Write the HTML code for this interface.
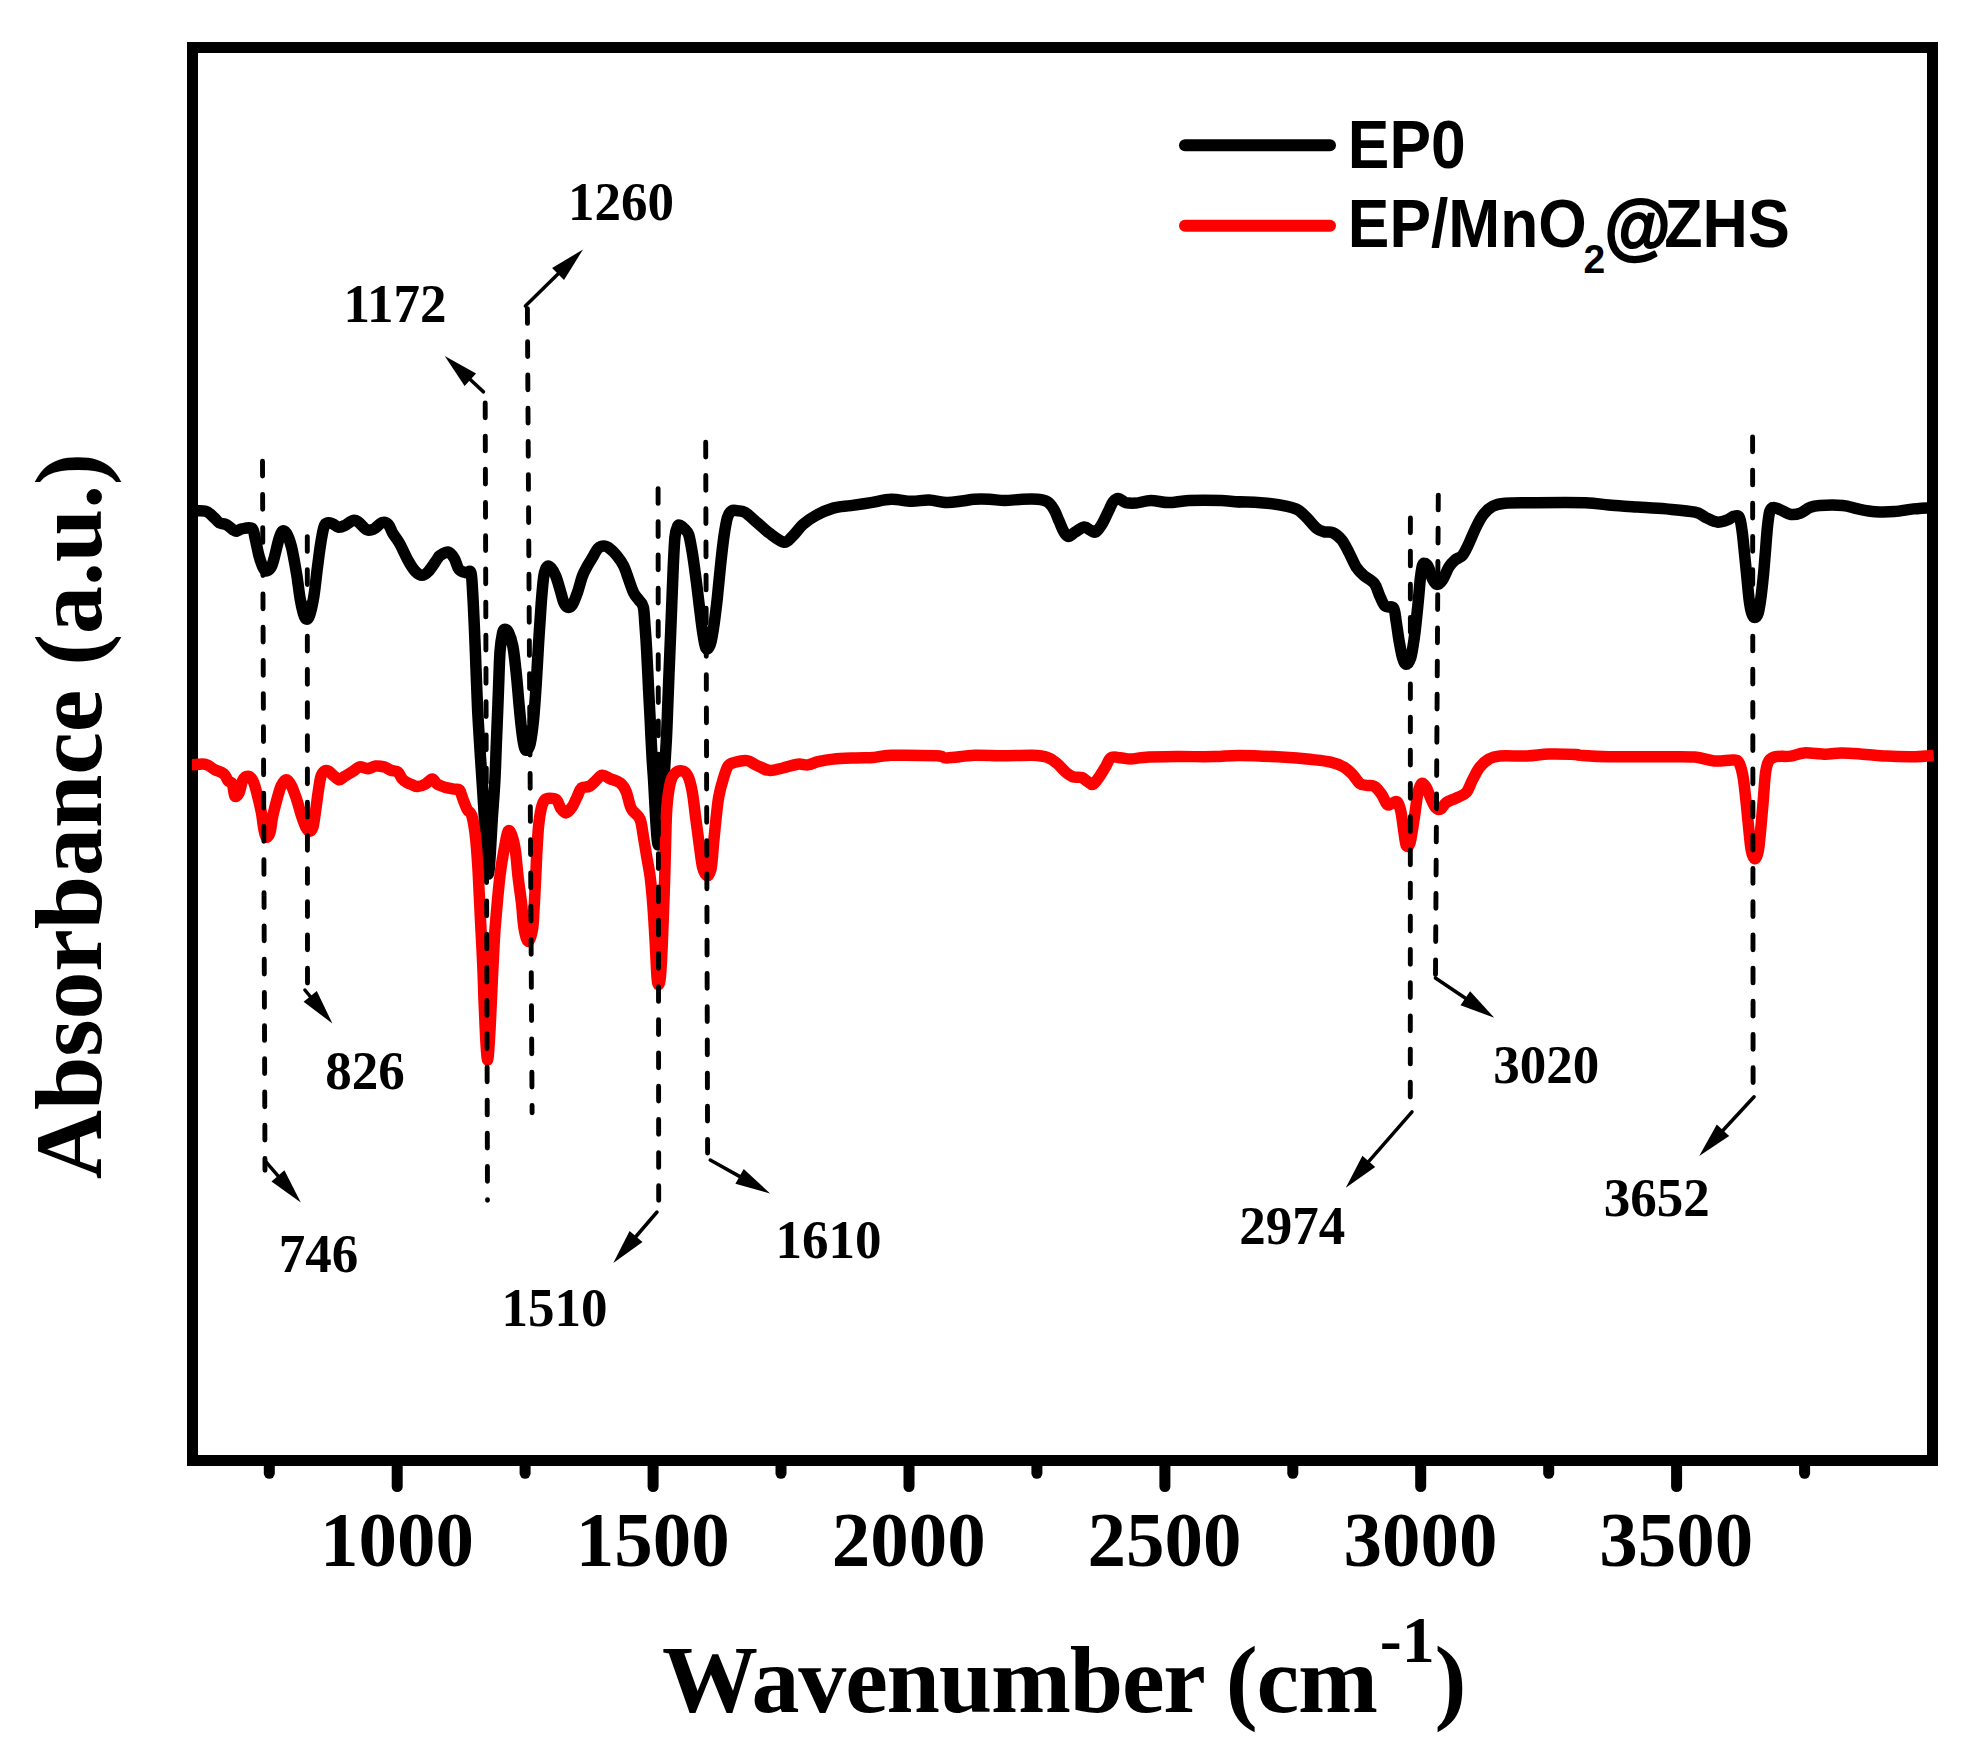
<!DOCTYPE html>
<html><head><meta charset="utf-8"><title>FTIR</title>
<style>html,body{margin:0;padding:0;background:#fff}svg{display:block}text{font-family:"Liberation Serif",serif;font-weight:bold;fill:#000}.ar{font-family:"Liberation Sans",sans-serif}</style></head><body>
<svg width="1982" height="1763" viewBox="0 0 1982 1763">
<rect width="1982" height="1763" fill="#fff"/>
<line x1="397.2" y1="1462" x2="397.2" y2="1486.5" stroke="#000" stroke-width="11" stroke-linecap="round"/>
<line x1="653.1" y1="1462" x2="653.1" y2="1486.5" stroke="#000" stroke-width="11" stroke-linecap="round"/>
<line x1="909.0" y1="1462" x2="909.0" y2="1486.5" stroke="#000" stroke-width="11" stroke-linecap="round"/>
<line x1="1164.9" y1="1462" x2="1164.9" y2="1486.5" stroke="#000" stroke-width="11" stroke-linecap="round"/>
<line x1="1420.7" y1="1462" x2="1420.7" y2="1486.5" stroke="#000" stroke-width="11" stroke-linecap="round"/>
<line x1="1676.6" y1="1462" x2="1676.6" y2="1486.5" stroke="#000" stroke-width="11" stroke-linecap="round"/>
<line x1="269.3" y1="1462" x2="269.3" y2="1473.3" stroke="#000" stroke-width="11" stroke-linecap="round"/>
<line x1="525.1" y1="1462" x2="525.1" y2="1473.3" stroke="#000" stroke-width="11" stroke-linecap="round"/>
<line x1="781.0" y1="1462" x2="781.0" y2="1473.3" stroke="#000" stroke-width="11" stroke-linecap="round"/>
<line x1="1036.9" y1="1462" x2="1036.9" y2="1473.3" stroke="#000" stroke-width="11" stroke-linecap="round"/>
<line x1="1292.8" y1="1462" x2="1292.8" y2="1473.3" stroke="#000" stroke-width="11" stroke-linecap="round"/>
<line x1="1548.7" y1="1462" x2="1548.7" y2="1473.3" stroke="#000" stroke-width="11" stroke-linecap="round"/>
<line x1="1804.6" y1="1462" x2="1804.6" y2="1473.3" stroke="#000" stroke-width="11" stroke-linecap="round"/>
<rect x="192.5" y="47.5" width="1740" height="1413" fill="none" stroke="#000" stroke-width="11"/>
<path d="M192.0 510.9 C194.3 511.0 202.0 510.1 205.7 511.3 C209.5 512.4 212.0 515.8 214.3 517.8 C216.6 519.7 217.5 521.8 219.5 522.9 C221.5 524.1 224.0 523.5 226.3 524.6 C228.6 525.8 231.5 528.7 233.2 529.8 C234.9 530.9 235.2 531.3 236.6 531.2 C238.0 531.0 239.2 529.4 241.8 528.9 C244.3 528.5 249.8 526.6 252.1 528.4 C254.3 530.3 254.3 535.6 255.5 540.1 C256.6 544.6 257.8 551.2 258.9 555.5 C260.1 559.8 261.2 563.2 262.3 565.8 C263.5 568.4 264.3 570.7 265.8 571.0 C267.2 571.3 269.5 569.8 270.9 567.5 C272.4 565.3 273.1 561.8 274.4 557.2 C275.6 552.7 277.4 544.4 278.6 540.1 C279.9 535.8 280.8 532.7 282.1 531.5 C283.4 530.4 284.8 530.7 286.4 533.2 C287.9 535.8 289.8 540.1 291.5 547.0 C293.2 553.8 295.2 565.8 296.7 574.4 C298.1 583.0 298.9 591.8 300.1 598.4 C301.2 605.0 302.5 610.4 303.5 613.9 C304.5 617.3 305.1 618.7 306.1 619.0 C307.1 619.3 308.2 619.3 309.5 615.6 C310.8 611.9 312.5 604.4 313.8 596.7 C315.1 589.0 316.1 578.1 317.2 569.3 C318.4 560.4 319.5 550.7 320.7 543.5 C321.8 536.4 323.0 529.8 324.1 526.4 C325.3 522.9 326.1 523.4 327.5 522.9 C329.0 522.5 330.8 523.1 332.7 523.8 C334.5 524.5 336.7 526.9 338.7 527.2 C340.7 527.5 342.3 526.7 344.7 525.5 C347.1 524.4 351.0 520.9 353.3 520.4 C355.6 519.8 356.1 520.5 358.4 522.1 C360.7 523.6 364.4 528.7 367.0 529.8 C369.6 530.9 371.3 530.1 373.9 528.9 C376.4 527.7 380.0 523.3 382.4 522.6 C384.9 521.9 386.7 522.9 388.4 524.6 C390.2 526.4 390.9 530.1 392.7 533.2 C394.6 536.4 397.0 538.9 399.6 543.5 C402.2 548.1 405.6 556.1 408.2 560.7 C410.7 565.3 412.7 568.5 415.0 571.0 C417.3 573.4 419.6 575.3 421.9 575.3 C424.2 575.3 426.2 573.7 428.8 571.0 C431.3 568.3 435.5 561.5 437.3 559.0 C439.2 556.4 438.1 556.6 440.0 555.5 C441.9 554.3 446.1 551.5 448.6 552.1 C451.0 552.6 452.9 556.1 454.6 558.9 C456.3 561.8 457.0 566.9 458.9 569.2 C460.7 571.5 463.7 572.1 465.7 572.6 C467.7 573.2 469.7 569.5 470.9 572.6 C472.0 575.8 472.0 582.6 472.6 591.5 C473.2 600.4 473.7 613.0 474.3 625.8 C474.9 638.7 475.5 654.4 476.0 668.7 C476.6 683.0 477.0 697.3 477.7 711.6 C478.5 725.9 479.6 743.1 480.3 754.5 C481.0 765.9 481.3 769.1 482.0 780.1 C482.7 791.0 483.8 807.5 484.5 820.0 C485.2 832.5 485.9 846.0 486.5 855.0 C487.1 864.0 487.7 874.0 488.3 874.0 C488.9 874.0 489.6 864.0 490.2 855.0 C490.8 846.0 491.4 832.5 492.2 820.0 C493.0 807.5 494.2 793.8 494.9 780.1 C495.6 766.3 496.0 751.6 496.6 737.3 C497.2 723.1 497.8 708.7 498.3 694.4 C498.9 680.1 499.3 661.8 500.0 651.6 C500.8 641.3 501.8 636.4 502.6 632.7 C503.5 629.0 504.2 629.3 505.2 629.3 C506.2 629.3 507.3 629.8 508.6 632.7 C509.9 635.5 511.6 639.5 512.9 646.4 C514.2 653.3 515.3 664.4 516.3 673.9 C517.3 683.3 518.1 693.9 518.9 703.0 C519.8 712.2 520.6 721.6 521.5 728.8 C522.3 735.9 523.2 742.3 524.1 745.9 C524.9 749.5 525.6 750.5 526.6 750.2 C527.6 749.9 528.9 749.2 530.1 744.2 C531.2 739.2 532.5 729.9 533.5 720.2 C534.5 710.5 535.2 698.7 536.1 685.9 C536.9 673.0 537.8 656.7 538.6 643.0 C539.5 629.3 540.4 614.7 541.2 603.5 C542.1 592.4 542.8 582.2 543.8 576.1 C544.8 569.9 545.9 567.9 547.2 566.6 C548.5 565.3 550.1 566.8 551.5 568.4 C552.9 569.9 554.4 572.5 555.8 576.1 C557.2 579.6 558.8 585.5 560.1 589.8 C561.4 594.1 562.4 598.9 563.5 601.8 C564.7 604.7 565.5 606.4 567.0 607.0 C568.4 607.5 570.4 607.5 572.1 605.2 C573.8 602.9 575.5 598.1 577.2 593.2 C579.0 588.4 580.7 580.6 582.4 576.1 C584.1 571.5 585.8 568.9 587.5 565.8 C589.3 562.6 591.0 560.1 592.7 557.2 C594.4 554.3 596.0 550.5 597.8 548.6 C599.7 546.8 601.8 546.0 603.8 546.0 C605.8 546.0 607.7 547.0 609.8 548.6 C612.0 550.2 614.4 552.6 616.7 555.5 C619.0 558.3 621.6 561.8 623.6 565.8 C625.6 569.8 627.0 574.9 628.7 579.5 C630.4 584.1 632.1 589.8 633.9 593.2 C635.6 596.7 637.4 597.8 639.0 600.1 C640.6 602.4 642.3 602.7 643.3 607.0 C644.3 611.2 644.4 618.4 645.0 625.8 C645.6 633.3 646.2 641.5 646.7 651.6 C647.3 661.6 647.9 674.4 648.4 685.9 C649.0 697.3 649.6 708.7 650.2 720.2 C650.7 731.6 651.3 744.5 651.9 754.5 C652.4 764.5 653.0 770.8 653.6 780.1 C654.1 789.3 654.7 800.8 655.2 810.0 C655.7 819.2 656.3 829.2 656.8 835.0 C657.3 840.8 657.7 845.0 658.2 845.0 C658.7 845.0 659.2 840.8 659.8 835.0 C660.4 829.2 660.9 819.2 661.6 810.0 C662.3 800.8 663.1 792.2 663.9 780.1 C664.7 767.9 665.7 751.6 666.5 737.3 C667.2 723.1 667.6 708.7 668.2 694.4 C668.7 680.1 669.3 665.9 669.9 651.6 C670.5 637.3 671.0 623.0 671.6 608.7 C672.2 594.4 672.7 577.8 673.3 565.8 C673.9 553.8 674.3 543.2 675.0 536.6 C675.7 530.0 676.7 528.2 677.6 526.3 C678.5 524.5 679.0 525.0 680.2 525.5 C681.3 525.9 683.0 527.3 684.5 528.9 C685.9 530.5 687.5 531.0 688.8 534.9 C690.0 538.8 691.0 545.2 692.2 552.1 C693.3 558.9 694.5 567.5 695.6 576.1 C696.8 584.6 697.9 594.4 699.0 603.5 C700.2 612.7 701.3 623.5 702.5 631.0 C703.6 638.4 704.6 645.8 705.9 648.1 C707.2 650.4 708.9 648.1 710.2 644.7 C711.5 641.3 712.5 635.0 713.6 627.5 C714.8 620.1 715.9 610.4 717.1 600.1 C718.2 589.8 719.4 576.4 720.5 565.8 C721.6 555.2 722.8 544.6 723.9 536.6 C725.1 528.6 726.1 522.0 727.4 517.7 C728.6 513.5 729.8 512.0 731.6 510.9 C733.5 509.7 736.2 510.6 738.5 510.9 C740.8 511.2 742.2 510.6 745.4 512.6 C748.5 514.6 753.4 519.5 757.4 522.9 C761.4 526.3 765.0 530.0 769.4 533.2 C773.8 536.4 780.1 541.7 784.0 542.2 C787.9 542.6 789.6 538.8 792.8 535.9 C795.9 532.9 799.1 527.9 802.9 524.5 C806.7 521.1 810.5 518.4 815.5 515.7 C820.5 512.9 827.3 509.8 833.2 508.1 C839.0 506.4 844.5 506.5 850.8 505.6 C857.1 504.7 864.3 503.6 871.0 502.6 C877.7 501.5 884.5 499.5 891.2 499.3 C897.9 499.1 905.1 501.2 911.4 501.3 C917.7 501.4 923.1 499.8 929.0 500.0 C934.9 500.3 941.2 502.4 946.7 502.6 C952.1 502.7 957.2 501.6 961.8 501.0 C966.4 500.5 969.8 499.6 974.4 499.3 C979.1 499.0 984.5 499.1 989.6 499.3 C994.6 499.5 999.2 500.5 1004.7 500.5 C1010.2 500.5 1016.9 499.5 1022.4 499.3 C1027.8 499.1 1033.3 498.9 1037.5 499.3 C1041.7 499.7 1044.9 500.1 1047.6 501.8 C1050.3 503.5 1052.0 506.2 1053.9 509.4 C1055.8 512.5 1057.3 516.9 1058.9 520.7 C1060.6 524.5 1062.4 529.5 1064.0 532.1 C1065.5 534.7 1066.4 536.4 1068.3 536.4 C1070.2 536.4 1072.7 533.6 1075.3 532.1 C1078.0 530.5 1081.6 527.3 1084.2 527.0 C1086.7 526.7 1088.6 529.5 1090.5 530.3 C1092.4 531.2 1093.6 533.0 1095.5 532.1 C1097.4 531.1 1099.7 527.9 1101.8 524.5 C1103.9 521.1 1106.2 515.7 1108.1 511.9 C1110.0 508.1 1111.5 504.0 1113.2 501.8 C1114.9 499.6 1116.1 498.4 1118.2 498.5 C1120.3 498.7 1122.8 501.8 1125.8 502.6 C1128.7 503.3 1131.7 503.4 1135.9 503.1 C1140.1 502.7 1145.6 500.6 1151.0 500.5 C1156.5 500.5 1162.4 502.6 1168.7 502.6 C1175.0 502.6 1180.0 500.9 1188.9 500.5 C1197.7 500.2 1213.2 500.3 1221.7 500.5 C1230.1 500.8 1236.3 501.9 1239.3 502.1 C1242.4 502.3 1235.3 501.6 1240.0 501.8 C1244.7 501.9 1259.4 502.5 1267.2 503.2 C1275.1 504.0 1282.1 505.2 1287.2 506.3 C1292.4 507.4 1294.8 508.0 1298.1 509.9 C1301.5 511.9 1304.2 515.1 1307.2 518.1 C1310.2 521.1 1313.6 525.8 1316.3 528.1 C1319.0 530.4 1320.8 531.0 1323.6 531.7 C1326.3 532.5 1329.6 531.3 1332.6 532.6 C1335.7 534.0 1339.0 536.6 1341.7 539.9 C1344.4 543.2 1346.6 548.1 1349.0 552.6 C1351.4 557.2 1353.8 563.4 1356.2 567.1 C1358.7 570.9 1360.5 572.6 1363.5 575.3 C1366.5 578.0 1371.7 580.0 1374.4 583.5 C1377.1 587.0 1378.0 592.4 1379.9 596.2 C1381.7 600.0 1383.0 604.2 1385.3 606.2 C1387.6 608.2 1391.7 605.4 1393.5 608.0 C1395.3 610.6 1395.3 616.3 1396.2 621.6 C1397.1 626.9 1397.9 633.7 1398.9 639.8 C1400.0 645.9 1401.4 653.9 1402.6 658.0 C1403.8 662.0 1404.8 664.3 1406.2 664.3 C1407.6 664.3 1409.4 662.0 1410.7 658.0 C1412.0 653.9 1413.1 645.9 1414.0 639.8 C1414.9 633.7 1415.5 628.3 1416.2 621.6 C1416.9 615.0 1417.7 607.1 1418.4 599.8 C1419.1 592.6 1419.7 583.8 1420.4 578.0 C1421.1 572.3 1421.7 567.7 1422.5 565.3 C1423.4 562.9 1424.2 563.1 1425.3 563.5 C1426.3 564.0 1427.7 565.5 1428.9 568.1 C1430.1 570.6 1431.2 576.2 1432.5 578.9 C1433.9 581.7 1435.4 584.2 1437.1 584.4 C1438.7 584.5 1440.6 582.7 1442.5 579.9 C1444.5 577.0 1446.8 570.5 1448.9 567.1 C1451.0 563.8 1453.0 561.8 1455.2 559.9 C1457.5 557.9 1460.2 558.1 1462.5 555.3 C1464.8 552.6 1466.6 548.2 1468.9 543.5 C1471.1 538.8 1473.7 532.0 1476.1 527.2 C1478.5 522.3 1480.7 518.0 1483.4 514.5 C1486.1 511.0 1488.8 508.2 1492.5 506.3 C1496.1 504.4 1498.8 503.8 1505.2 503.2 C1511.5 502.6 1517.3 502.8 1530.6 502.7 C1543.9 502.6 1572.1 502.3 1585.1 502.7 C1598.1 503.1 1600.0 504.3 1608.8 505.1 C1617.5 505.8 1627.9 506.3 1637.5 507.0 C1647.1 507.6 1656.7 508.0 1666.3 508.9 C1675.9 509.8 1688.3 510.7 1695.0 512.2 C1701.7 513.7 1702.9 516.2 1706.5 517.9 C1710.2 519.6 1713.6 521.8 1717.1 522.1 C1720.6 522.4 1724.9 520.8 1727.6 519.8 C1730.3 518.9 1731.5 516.9 1733.4 516.4 C1735.3 515.9 1737.7 514.6 1739.1 517.0 C1740.6 519.3 1741.1 524.3 1742.0 530.4 C1742.9 536.4 1743.7 545.7 1744.5 553.4 C1745.3 561.0 1746.0 568.7 1746.8 576.4 C1747.6 584.1 1748.3 593.3 1749.1 599.4 C1749.9 605.5 1750.7 609.8 1751.6 612.8 C1752.5 615.9 1753.4 617.6 1754.5 617.6 C1755.6 617.6 1757.2 616.5 1758.3 612.8 C1759.4 609.1 1760.3 602.3 1761.2 595.6 C1762.1 588.8 1762.9 580.2 1763.7 572.6 C1764.4 564.9 1765.0 557.2 1765.6 549.5 C1766.2 541.9 1766.8 532.9 1767.5 526.5 C1768.2 520.1 1768.8 514.4 1769.8 511.2 C1770.8 508.0 1771.7 507.5 1773.6 507.4 C1775.6 507.2 1778.4 509.1 1781.3 510.2 C1784.2 511.4 1787.7 514.0 1790.9 514.5 C1794.1 514.9 1797.3 514.3 1800.5 513.1 C1803.7 511.9 1806.9 508.6 1810.1 507.4 C1813.3 506.1 1814.2 505.8 1819.7 505.4 C1825.1 505.1 1836.3 504.9 1842.7 505.4 C1849.1 506.0 1852.6 507.8 1858.0 508.9 C1863.4 510.0 1869.2 511.3 1875.3 511.8 C1881.3 512.2 1888.0 512.1 1894.4 511.6 C1900.8 511.1 1907.2 509.6 1913.6 508.9 C1920.0 508.2 1929.6 507.6 1932.8 507.4" fill="none" stroke="#000" stroke-width="11.5" stroke-linejoin="round" stroke-linecap="butt"/>
<path d="M192.0 764.8 C194.3 764.8 202.0 763.6 205.7 764.3 C209.5 765.1 211.3 767.9 214.3 769.5 C217.3 771.1 221.5 771.9 223.7 773.8 C226.0 775.6 226.6 778.9 228.0 780.6 C229.5 782.3 231.2 781.5 232.3 784.1 C233.5 786.6 233.8 794.6 234.9 796.1 C236.0 797.5 237.9 795.2 239.2 792.6 C240.5 790.1 241.2 783.3 242.6 780.6 C244.0 777.9 246.0 776.3 247.8 776.3 C249.5 776.3 251.3 777.6 252.9 780.6 C254.5 783.6 255.8 788.9 257.2 794.4 C258.6 799.8 260.3 807.2 261.5 813.2 C262.6 819.2 263.2 826.4 264.1 830.4 C264.9 834.4 265.6 837.0 266.6 837.2 C267.6 837.5 269.1 835.5 270.1 832.1 C271.1 828.7 271.5 822.1 272.6 816.7 C273.8 811.2 275.5 804.6 276.9 799.5 C278.4 794.4 279.6 789.1 281.2 785.8 C282.8 782.5 284.6 779.8 286.4 779.8 C288.1 779.8 289.8 782.5 291.5 785.8 C293.2 789.1 294.9 794.4 296.7 799.5 C298.4 804.6 300.2 811.9 301.8 816.7 C303.4 821.4 304.8 825.4 306.1 827.8 C307.4 830.2 308.4 831.4 309.5 831.2 C310.7 831.1 312.0 830.2 313.0 827.0 C314.0 823.7 314.7 817.2 315.5 811.5 C316.4 805.8 317.2 798.4 318.1 792.6 C319.0 786.9 319.7 780.8 320.7 777.2 C321.7 773.6 322.8 772.2 324.1 771.2 C325.4 770.2 326.7 770.3 328.4 771.2 C330.1 772.1 332.5 774.9 334.4 776.3 C336.3 777.8 337.8 779.8 339.5 779.8 C341.3 779.8 342.4 777.8 344.7 776.3 C347.0 774.9 350.8 772.8 353.3 771.2 C355.7 769.6 357.4 767.5 359.3 766.9 C361.1 766.3 362.9 767.5 364.4 767.8 C366.0 768.1 366.9 768.9 368.7 768.6 C370.6 768.3 373.0 766.3 375.6 766.0 C378.1 765.8 381.6 766.2 384.2 766.9 C386.7 767.6 388.7 769.5 391.0 770.3 C393.3 771.2 396.0 770.6 397.9 772.1 C399.7 773.5 400.7 777.2 402.2 778.9 C403.6 780.6 404.7 781.3 406.5 782.3 C408.2 783.3 410.6 784.2 412.5 784.9 C414.3 785.6 415.5 786.8 417.6 786.6 C419.7 786.5 422.9 785.3 425.3 784.1 C427.8 782.8 430.2 778.9 432.2 778.9 C434.2 778.9 435.0 782.6 437.3 784.1 C439.6 785.5 443.1 786.6 445.9 787.5 C448.8 788.4 452.2 788.8 454.5 789.2 C456.8 789.6 458.2 788.4 459.6 790.1 C461.1 791.8 461.8 796.2 463.1 799.5 C464.4 802.8 465.9 807.2 467.4 809.8 C468.8 812.4 470.4 810.9 471.6 814.9 C472.9 818.9 474.1 825.8 475.1 833.8 C476.1 841.8 476.9 852.4 477.6 863.0 C478.4 873.6 478.8 885.9 479.4 897.3 C479.9 908.7 480.5 920.2 481.1 931.6 C481.7 943.0 482.3 954.5 482.8 965.9 C483.3 977.3 483.6 989.4 484.0 1000.1 C484.4 1010.7 484.9 1021.3 485.3 1030.0 C485.7 1038.7 486.2 1047.0 486.6 1052.0 C487.0 1057.0 487.3 1060.0 487.6 1060.0 C487.9 1060.0 488.2 1057.0 488.6 1052.0 C489.0 1047.0 489.5 1038.7 490.0 1030.0 C490.5 1021.3 490.7 1015.0 491.4 1000.0 C492.1 985.0 493.4 955.9 494.3 940.2 C495.2 924.5 496.0 917.3 497.0 905.9 C498.0 894.5 499.2 881.6 500.5 871.6 C501.8 861.6 503.5 852.6 504.8 845.8 C506.1 839.0 507.0 832.6 508.2 831.0 C509.4 829.4 510.8 832.7 512.1 836.1 C513.3 839.5 514.5 844.6 515.5 851.5 C516.5 858.4 517.1 868.7 518.1 877.2 C519.1 885.8 520.5 894.4 521.5 903.0 C522.5 911.6 522.9 922.3 524.1 928.7 C525.2 935.1 526.9 941.6 528.4 941.6 C529.8 941.6 531.6 935.1 532.6 928.7 C533.6 922.3 533.8 911.6 534.4 903.0 C534.9 894.4 535.3 885.8 535.7 877.2 C536.2 868.7 536.4 860.1 536.9 851.5 C537.4 842.9 537.9 832.9 538.6 825.8 C539.4 818.6 540.2 812.9 541.2 808.6 C542.2 804.3 543.2 801.8 544.6 800.0 C546.1 798.3 547.8 798.3 549.8 798.3 C551.8 798.3 554.8 798.3 556.7 800.0 C558.5 801.8 559.4 806.5 560.9 808.6 C562.5 810.8 564.2 813.2 566.1 812.9 C568.0 812.6 570.2 809.6 572.1 806.9 C574.0 804.2 575.7 799.8 577.2 796.6 C578.8 793.5 579.5 789.8 581.5 788.0 C583.5 786.3 587.0 787.5 589.3 786.3 C591.5 785.2 593.1 783.0 595.3 781.2 C597.4 779.3 599.7 775.6 602.1 775.2 C604.6 774.7 606.8 777.3 609.8 778.6 C612.8 779.9 617.4 780.7 620.1 782.9 C622.9 785.0 624.3 787.2 626.1 791.5 C628.0 795.8 629.0 804.0 631.3 808.6 C633.6 813.2 637.9 814.3 639.9 818.9 C641.9 823.5 642.2 829.8 643.3 836.1 C644.4 842.4 645.6 849.8 646.7 856.7 C647.9 863.5 649.2 869.5 650.2 877.2 C651.2 885.0 652.0 894.4 652.7 903.0 C653.4 911.6 653.9 920.1 654.4 928.7 C655.0 937.3 655.4 946.4 655.8 954.4 C656.2 962.5 656.6 971.7 657.0 976.7 C657.4 981.8 657.8 984.5 658.4 984.5 C659.0 984.5 659.8 983.2 660.4 976.7 C661.1 970.3 661.7 956.7 662.2 945.9 C662.7 935.0 663.1 923.0 663.5 911.6 C664.0 900.1 664.4 888.7 664.7 877.2 C665.1 865.8 665.3 854.4 665.6 842.9 C665.9 831.5 666.1 818.3 666.8 808.6 C667.5 798.9 668.7 790.3 669.9 784.6 C671.1 778.9 672.2 776.6 674.2 774.3 C676.2 772.0 679.6 770.6 681.9 770.9 C684.2 771.2 686.2 772.6 687.9 776.0 C689.6 779.5 690.9 784.6 692.2 791.5 C693.5 798.3 694.5 808.6 695.6 817.2 C696.8 825.8 697.9 834.6 699.0 842.9 C700.2 851.2 701.2 861.5 702.5 867.0 C703.8 872.4 705.3 875.2 706.8 875.5 C708.2 875.8 709.9 874.1 711.1 868.7 C712.2 863.2 712.8 851.5 713.6 842.9 C714.5 834.4 715.3 824.9 716.2 817.2 C717.1 809.5 717.6 802.9 718.8 796.6 C719.9 790.3 721.5 784.6 723.1 779.5 C724.6 774.3 726.2 768.6 728.2 765.7 C730.2 762.9 731.9 763.2 735.1 762.3 C738.2 761.4 743.7 760.2 747.1 760.6 C750.5 761.0 752.5 763.3 755.7 764.9 C758.8 766.4 765.2 769.7 766.0 770.0 C766.7 770.3 759.3 766.6 760.0 766.7 C760.7 766.8 766.3 770.3 770.1 770.5 C773.9 770.7 778.1 769.0 782.7 768.0 C787.3 766.9 793.6 764.7 797.8 764.2 C802.0 763.7 804.6 765.3 807.9 764.9 C811.3 764.5 813.8 762.6 818.0 761.6 C822.2 760.7 826.9 759.8 833.2 759.1 C839.5 758.5 849.1 758.2 855.9 757.9 C862.6 757.6 867.6 757.8 873.5 757.4 C879.4 756.9 880.7 755.6 891.2 755.3 C901.7 755.1 927.3 755.4 936.6 755.8 C945.8 756.3 940.4 757.9 946.7 757.9 C953.0 757.8 965.2 755.7 974.4 755.3 C983.7 755.0 992.5 755.8 1002.2 755.8 C1011.8 755.8 1024.9 755.1 1032.5 755.3 C1040.0 755.6 1043.6 756.1 1047.6 757.4 C1051.6 758.6 1053.5 760.5 1056.4 762.9 C1059.4 765.3 1062.5 769.4 1065.2 771.7 C1068.0 774.0 1070.1 775.8 1072.8 776.8 C1075.5 777.7 1079.1 776.7 1081.6 777.5 C1084.2 778.4 1086.1 780.7 1088.0 781.8 C1089.8 783.0 1091.1 785.2 1093.0 784.3 C1094.9 783.5 1097.2 779.7 1099.3 776.8 C1101.4 773.8 1103.7 769.8 1105.6 766.7 C1107.5 763.5 1108.6 759.4 1110.7 757.9 C1112.8 756.3 1114.9 757.1 1118.2 757.4 C1121.6 757.6 1126.6 759.1 1130.8 759.1 C1135.0 759.1 1135.9 757.8 1143.5 757.4 C1151.0 756.9 1164.5 756.7 1176.2 756.6 C1188.0 756.5 1203.5 756.8 1214.1 756.6 C1224.7 756.4 1228.1 755.3 1240.0 755.4 C1251.9 755.5 1273.3 756.5 1285.4 757.2 C1297.5 757.9 1305.1 758.8 1312.7 759.6 C1320.2 760.4 1325.7 760.9 1330.8 762.1 C1336.0 763.3 1339.9 764.8 1343.5 766.9 C1347.2 768.9 1349.9 771.7 1352.6 774.5 C1355.3 777.3 1357.5 781.8 1359.9 783.6 C1362.3 785.4 1364.7 784.9 1367.1 785.4 C1369.6 785.8 1372.0 784.8 1374.4 786.3 C1376.8 787.8 1379.6 791.4 1381.7 794.5 C1383.8 797.5 1385.5 802.9 1387.1 804.5 C1388.8 806.0 1390.0 804.0 1391.7 803.6 C1393.3 803.1 1395.6 800.5 1397.1 801.7 C1398.6 802.9 1399.7 806.3 1400.7 810.8 C1401.8 815.4 1402.6 823.2 1403.5 829.0 C1404.4 834.7 1405.1 842.9 1406.2 845.3 C1407.3 847.7 1408.8 846.2 1409.8 843.5 C1410.9 840.8 1411.6 834.4 1412.6 829.0 C1413.5 823.5 1414.4 816.9 1415.3 810.8 C1416.2 804.8 1416.9 797.2 1418.0 792.7 C1419.1 788.1 1420.3 784.5 1421.6 783.6 C1423.0 782.7 1424.7 784.8 1426.2 787.2 C1427.7 789.6 1429.2 794.8 1430.7 798.1 C1432.2 801.4 1433.6 805.4 1435.3 807.2 C1436.9 809.0 1438.9 809.8 1440.7 809.0 C1442.5 808.2 1443.6 804.5 1446.2 802.6 C1448.7 800.8 1452.8 799.8 1456.1 798.1 C1459.5 796.4 1463.4 795.7 1466.1 792.7 C1468.9 789.6 1470.2 784.2 1472.5 779.9 C1474.8 775.7 1477.0 770.7 1479.8 767.2 C1482.5 763.7 1485.5 760.9 1488.8 759.1 C1492.2 757.2 1493.4 756.5 1499.7 756.0 C1506.1 755.4 1518.8 756.3 1527.0 756.0 C1535.2 755.7 1540.6 754.4 1548.8 754.1 C1557.0 753.9 1570.8 754.3 1576.0 754.5 C1581.2 754.7 1574.5 754.8 1580.0 755.2 C1585.5 755.6 1594.4 756.5 1608.8 756.7 C1623.1 757.0 1651.9 756.7 1666.3 756.7 C1680.7 756.8 1687.0 756.4 1695.0 757.1 C1703.0 757.8 1707.8 760.5 1714.2 760.9 C1720.6 761.4 1729.2 759.7 1733.4 760.0 C1737.5 760.3 1737.5 760.1 1739.1 762.9 C1740.7 765.6 1741.8 770.2 1743.0 776.3 C1744.1 782.3 1744.9 791.3 1745.8 799.3 C1746.7 807.3 1747.5 815.9 1748.3 824.2 C1749.2 832.5 1750.0 843.4 1751.0 849.1 C1752.0 854.9 1753.3 858.4 1754.5 858.7 C1755.7 859.0 1757.2 856.8 1758.3 851.0 C1759.4 845.3 1760.3 833.2 1761.2 824.2 C1762.0 815.3 1762.7 806.0 1763.5 797.4 C1764.2 788.7 1764.7 778.5 1765.6 772.4 C1766.5 766.4 1767.2 763.6 1768.8 760.9 C1770.5 758.3 1771.9 757.5 1775.6 756.7 C1779.2 755.9 1786.1 756.8 1790.9 756.1 C1795.7 755.5 1798.6 753.2 1804.3 752.9 C1810.1 752.6 1819.3 754.2 1825.4 754.2 C1831.5 754.2 1835.3 753.0 1840.7 752.9 C1846.2 752.8 1850.3 753.1 1858.0 753.7 C1865.7 754.2 1877.2 755.6 1886.8 756.1 C1896.3 756.7 1907.7 756.8 1915.5 756.7 C1923.3 756.6 1930.7 755.8 1933.7 755.6" fill="none" stroke="#f00" stroke-width="11.5" stroke-linejoin="round" stroke-linecap="butt"/>
<line x1="262.5" y1="461.2" x2="265.0" y2="1170.2" stroke="#000" stroke-width="4.9" stroke-linecap="round" stroke-dasharray="14.8 18.4"/>
<line x1="307.3" y1="536.6" x2="307.5" y2="983.2" stroke="#000" stroke-width="4.9" stroke-linecap="round" stroke-dasharray="14.8 18.4"/>
<line x1="485.2" y1="402.9" x2="487.5" y2="1200.2" stroke="#000" stroke-width="4.9" stroke-linecap="round" stroke-dasharray="14.8 18.4"/>
<line x1="527.4" y1="308.6" x2="532.1" y2="1112.8" stroke="#000" stroke-width="4.9" stroke-linecap="round" stroke-dasharray="14.8 18.4"/>
<line x1="658.1" y1="488.6" x2="658.7" y2="1200.3" stroke="#000" stroke-width="4.9" stroke-linecap="round" stroke-dasharray="14.8 18.4"/>
<line x1="705.7" y1="442.3" x2="707.6" y2="1153.1" stroke="#000" stroke-width="4.9" stroke-linecap="round" stroke-dasharray="14.8 18.4"/>
<line x1="1410.4" y1="517.9" x2="1410.3" y2="1098.5" stroke="#000" stroke-width="4.9" stroke-linecap="round" stroke-dasharray="14.8 18.4"/>
<line x1="1438.3" y1="495.1" x2="1435.5" y2="974.5" stroke="#000" stroke-width="4.9" stroke-linecap="round" stroke-dasharray="14.8 18.4"/>
<line x1="1752.6" y1="436.9" x2="1753.1" y2="1083.0" stroke="#000" stroke-width="4.9" stroke-linecap="round" stroke-dasharray="14.8 18.4"/>
<line x1="264.9" y1="1160.7" x2="279.3" y2="1177.4" stroke="#000" stroke-width="3.5" stroke-linecap="round"/>
<polygon points="300.8,1202.4 271.5,1181.4 284.4,1170.3" fill="#000"/>
<line x1="304.9" y1="990.0" x2="311.5" y2="998.0" stroke="#000" stroke-width="3.5" stroke-linecap="round"/>
<polygon points="332.4,1023.5 303.6,1001.8 316.8,991.1" fill="#000"/>
<line x1="483.5" y1="391.9" x2="468.9" y2="378.3" stroke="#000" stroke-width="3.5" stroke-linecap="round"/>
<polygon points="444.7,355.9 476.1,373.5 464.6,385.9" fill="#000"/>
<line x1="525.4" y1="306.1" x2="559.5" y2="272.6" stroke="#000" stroke-width="3.5" stroke-linecap="round"/>
<polygon points="583.0,249.5 564.0,280.1 552.1,268.0" fill="#000"/>
<line x1="657.0" y1="1212.0" x2="634.7" y2="1238.0" stroke="#000" stroke-width="3.5" stroke-linecap="round"/>
<polygon points="613.3,1263.1 629.6,1231.0 642.5,1242.0" fill="#000"/>
<line x1="710.2" y1="1160.0" x2="741.3" y2="1177.4" stroke="#000" stroke-width="3.5" stroke-linecap="round"/>
<polygon points="770.1,1193.5 735.4,1183.8 743.7,1169.0" fill="#000"/>
<line x1="1412.0" y1="1111.9" x2="1367.5" y2="1162.9" stroke="#000" stroke-width="3.5" stroke-linecap="round"/>
<polygon points="1345.8,1187.8 1362.4,1155.8 1375.2,1167.0" fill="#000"/>
<line x1="1435.4" y1="978.0" x2="1467.0" y2="999.3" stroke="#000" stroke-width="3.5" stroke-linecap="round"/>
<polygon points="1494.3,1017.8 1460.5,1005.2 1470.1,991.2" fill="#000"/>
<line x1="1754.1" y1="1096.8" x2="1721.7" y2="1131.7" stroke="#000" stroke-width="3.5" stroke-linecap="round"/>
<polygon points="1699.2,1155.9 1716.8,1124.5 1729.2,1136.0" fill="#000"/>
<text transform="translate(621.1,219.6) scale(1,1.02)" font-size="53" text-anchor="middle">1260</text>
<text transform="translate(394.9,321.5) scale(1,1.02)" font-size="53" text-anchor="middle">1172</text>
<text transform="translate(365.1,1088.7) scale(1,1.02)" font-size="53" text-anchor="middle">826</text>
<text transform="translate(318.6,1272.4) scale(1,1.02)" font-size="53" text-anchor="middle">746</text>
<text transform="translate(554.5,1326.2) scale(1,1.02)" font-size="53" text-anchor="middle">1510</text>
<text transform="translate(828.4,1257.6) scale(1,1.02)" font-size="53" text-anchor="middle">1610</text>
<text transform="translate(1292.3,1244.4) scale(1,1.02)" font-size="53" text-anchor="middle">2974</text>
<text transform="translate(1546.2,1083.1) scale(1,1.02)" font-size="53" text-anchor="middle">3020</text>
<text transform="translate(1656.8,1215.9) scale(1,1.02)" font-size="53" text-anchor="middle">3652</text>
<text transform="translate(396.9,1565.6) scale(1,1.03)" font-size="77" text-anchor="middle">1000</text>
<text transform="translate(652.8,1565.6) scale(1,1.03)" font-size="77" text-anchor="middle">1500</text>
<text transform="translate(908.7,1565.6) scale(1,1.03)" font-size="77" text-anchor="middle">2000</text>
<text transform="translate(1164.6,1565.6) scale(1,1.03)" font-size="77" text-anchor="middle">2500</text>
<text transform="translate(1420.4,1565.6) scale(1,1.03)" font-size="77" text-anchor="middle">3000</text>
<text transform="translate(1676.3,1565.6) scale(1,1.03)" font-size="77" text-anchor="middle">3500</text>
<text x="662" y="1712" font-size="96" textLength="716" lengthAdjust="spacing">Wavenumber (cm</text>
<text x="1379.8" y="1661.8" font-size="66">-1</text>
<text x="1434.4" y="1712" font-size="96">)</text>
<text transform="translate(100.8,1179.3) rotate(-90)" font-size="96" textLength="726.3" lengthAdjust="spacing">Absorbance (a.u.)</text>
<line x1="1185" y1="145.3" x2="1330" y2="145.3" stroke="#000" stroke-width="12" stroke-linecap="round"/>
<line x1="1185" y1="225.7" x2="1330" y2="225.7" stroke="#f00" stroke-width="12" stroke-linecap="round"/>
<text class="ar" transform="translate(1347.85,168) scale(1,1.095)" font-size="62.3">EP0</text>
<text class="ar" transform="translate(1347.85,246.8) scale(1,1.095)" font-size="62.3">EP/MnO</text>
<text class="ar" transform="translate(1583.6,273) scale(1,1.02)" font-size="39">2</text>
<text class="ar" transform="translate(1604.4,250.7) scale(1,1.053)" font-size="67.8" stroke="#000" stroke-width="2" stroke-linejoin="round">@</text>
<text class="ar" transform="translate(1664.3,246.8) scale(1,1.095)" font-size="62.75">ZHS</text>
</svg></body></html>
